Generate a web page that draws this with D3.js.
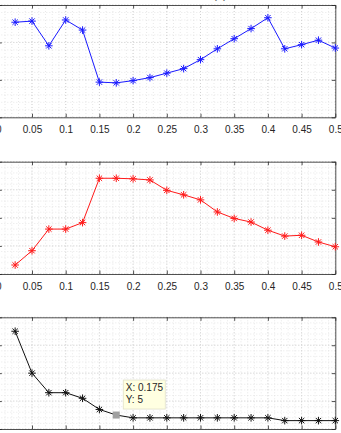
<!DOCTYPE html>
<html><head><meta charset="utf-8">
<script src="https://cdn.jsdelivr.net/npm/d3@7"></script>
<style>
html,body{margin:0;padding:0;background:#fff;overflow:hidden;}
svg{display:block;font-family:"Liberation Sans",Arial,sans-serif;}
</style></head>
<body>
<svg id="chart" width="341" height="433"></svg>
<script>
const xValues = [0.025,0.05,0.075,0.1,0.125,0.15,0.175,0.2,0.225,0.25,0.275,0.3,0.325,0.35,0.375,0.4,0.425,0.45,0.475,0.5];
const seriesTop = [2.54,2.57,1.91,2.60,2.33,0.94,0.92,0.98,1.06,1.18,1.30,1.54,1.83,2.10,2.37,2.66,1.83,1.94,2.06,1.85];
const seriesMid = [0.32,0.83,1.60,1.60,1.83,3.41,3.41,3.39,3.35,2.98,2.82,2.64,2.21,1.98,1.85,1.56,1.35,1.38,1.14,0.97];
const seriesBot = [35,20,13,13,11,7,5,4,4,4,4,4,4,4,4,4,3,3,3,3];
const xTicks = [0,0.05,0.1,0.15,0.2,0.25,0.3,0.35,0.4,0.45,0.5];
const yTicksTop = [0,1,2,3];
const yTicksMid = [0,1,2,3,4];
const yTicksBot = [0,10,20,30,40];
const tipX = 0.175, tipY = 5;
const titleText = "(a)";

const svg = d3.select("#chart");
const x = d3.scaleLinear().domain([0,0.5]).range([-1.7,335.3]);
const axisColor = "#262626";

const panels = [
  {data: seriesTop, color: "#1a1aff", ticks: yTicksTop, top: 5, bottom: 117.3, labels: true},
  {data: seriesMid, color: "#ff1a1a", ticks: yTicksMid, top: 161.7, bottom: 274, labels: true},
  {data: seriesBot, color: "#111111", ticks: yTicksBot, top: 317.3, bottom: 429, labels: false}
];

function starPath(cx, cy){
  const a = 3.8, b = 2.7;
  return `M${cx-a},${cy}L${cx+a},${cy}M${cx},${cy-a}L${cx},${cy+a}` +
         `M${cx-b},${cy-b}L${cx+b},${cy+b}M${cx-b},${cy+b}L${cx+b},${cy-b}`;
}

panels.forEach((p, pi) => {
  const y = d3.scaleLinear().domain([p.ticks[0], p.ticks[p.ticks.length-1]]).range([p.bottom, p.top]);
  const g = svg.append("g");
  const [x0, x1] = x.range();
  // minor grid
  const xMinor = d3.range(0, 0.5001, 0.01);
  const step = (p.ticks[1]-p.ticks[0]) / 5;
  const yMinor = d3.range(p.ticks[0], p.ticks[p.ticks.length-1] + step/2, step);
  g.selectAll(".xm").data(xMinor).enter().append("line")
    .attr("x1", d => x(d)).attr("x2", d => x(d)).attr("y1", p.top).attr("y2", p.bottom)
    .attr("stroke", "#d8d8d8").attr("stroke-width", 0.6).attr("stroke-dasharray", "1,2");
  g.selectAll(".ym").data(yMinor).enter().append("line")
    .attr("x1", x0).attr("x2", x1).attr("y1", d => y(d)).attr("y2", d => y(d))
    .attr("stroke", "#d8d8d8").attr("stroke-width", 0.6).attr("stroke-dasharray", "1,2");
  // major grid
  g.selectAll(".xg").data(xTicks).enter().append("line")
    .attr("x1", d => x(d)).attr("x2", d => x(d)).attr("y1", p.top).attr("y2", p.bottom)
    .attr("stroke", "#c8c8c8").attr("stroke-width", 0.7).attr("stroke-dasharray", "1,2");
  g.selectAll(".yg").data(p.ticks).enter().append("line")
    .attr("x1", x0).attr("x2", x1).attr("y1", d => y(d)).attr("y2", d => y(d))
    .attr("stroke", "#c8c8c8").attr("stroke-width", 0.7).attr("stroke-dasharray", "1,2");

  // axes (inward ticks)
  const fmt = d => d === 0 ? "0" : String(d);
  const axB = g.append("g").attr("transform", `translate(0,${p.bottom})`)
    .call(d3.axisBottom(x).tickValues(xTicks).tickSizeInner(-3.5).tickSizeOuter(0).tickPadding(9)
      .tickFormat(p.labels ? fmt : () => ""));
  const axT = g.append("g").attr("transform", `translate(0,${p.top})`)
    .call(d3.axisTop(x).tickValues(xTicks).tickSizeInner(-3.5).tickSizeOuter(0).tickFormat(() => ""));
  const axL = g.append("g").attr("transform", `translate(${x0},0)`)
    .call(d3.axisLeft(y).tickValues(p.ticks).tickSizeInner(-3.5).tickSizeOuter(0).tickFormat(() => ""));
  const axR = g.append("g").attr("transform", `translate(${x1},0)`)
    .call(d3.axisRight(y).tickValues(p.ticks).tickSizeInner(-3.5).tickSizeOuter(0).tickFormat(() => ""));
  [axB, axT, axL, axR].forEach(a => {
    a.select(".domain").attr("stroke", axisColor).attr("stroke-width", 0.8);
    a.selectAll(".tick line").attr("stroke", axisColor).attr("stroke-width", 0.8);
    a.selectAll("text").attr("fill", axisColor).attr("font-size", 10)
      .attr("font-family", "'Liberation Sans',Arial,sans-serif");
  });

  // line
  const pts = xValues.map((xv, i) => [xv, p.data[i]]);
  g.append("path").datum(pts)
    .attr("d", d3.line().x(d => x(d[0])).y(d => y(d[1])))
    .attr("fill", "none").attr("stroke", p.color).attr("stroke-width", 1);
  g.selectAll(".mk").data(pts.filter(d => !(pi === 2 && d[0] === tipX))).enter().append("path")
    .attr("d", d => starPath(x(d[0]), y(d[1])))
    .attr("stroke", p.color).attr("stroke-width", 1).attr("fill", "none");

  if (pi === 2) {
    const tx = x(tipX), ty = y(tipY);
    g.append("rect").attr("x", tx - 3.5).attr("y", ty - 3.5).attr("width", 7).attr("height", 7)
      .attr("fill", "#a0a0a0");
    const bx = tx + 7, by = ty - 35;
    g.append("rect").attr("x", bx).attr("y", by).attr("width", 42).attr("height", 29)
      .attr("fill", "#ffffe1").attr("stroke", "#e0e0c8").attr("stroke-width", 0.8);
    g.append("text").attr("x", bx + 2.5).attr("y", by + 11)
      .attr("font-size", 10).attr("fill", "#262626").text(`X: ${tipX}`);
    g.append("text").attr("x", bx + 2.5).attr("y", by + 23)
      .attr("font-size", 10).attr("fill", "#262626").text(`Y: ${tipY}`);
  }
});

svg.append("text").attr("x", 220).attr("y", -1.5).attr("text-anchor", "middle")
  .attr("font-size", 11).attr("fill", "#444").text(titleText);
</script>
</body></html>
